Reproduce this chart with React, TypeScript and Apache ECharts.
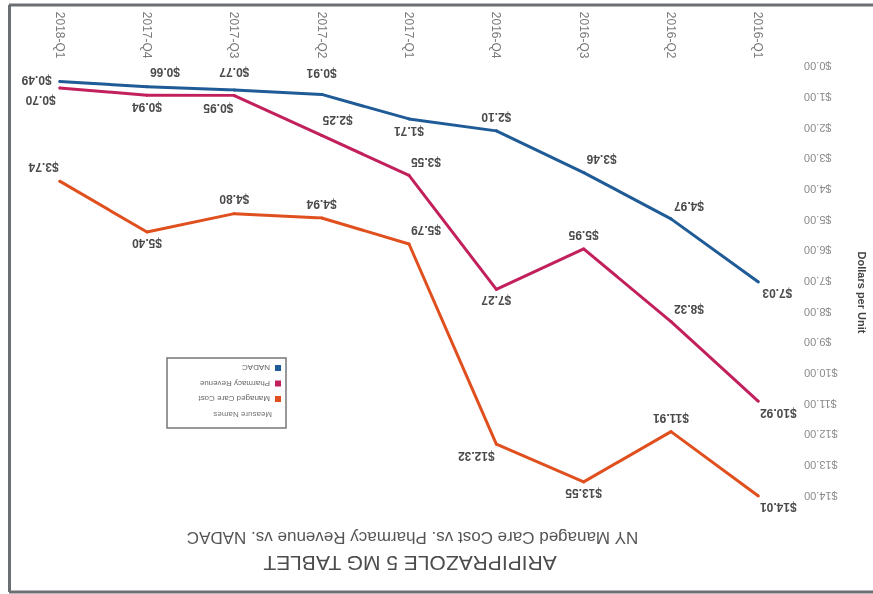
import React, { useEffect, useRef } from 'react';
import * as echarts from 'echarts';

const categories = ['2016-Q1', '2016-Q2', '2016-Q3', '2016-Q4', '2017-Q1', '2017-Q2', '2017-Q3', '2017-Q4', '2018-Q1'];
const managedCareCost = [14.01, 11.91, 13.55, 12.32, 5.79, 4.94, 4.8, 5.4, 3.74];
const pharmacyRevenue = [10.92, 8.32, 5.95, 7.27, 3.55, 2.25, 0.95, 0.94, 0.7];
const nadac = [7.03, 4.97, 3.46, 2.1, 1.71, 0.91, 0.77, 0.66, 0.49];
const seriesNames = ['Managed Care Cost', 'Pharmacy Revenue', 'NADAC'];
const titleText = 'ARIPIPRAZOLE 5 MG TABLET';
const subtitleText = 'NY Managed Care Cost vs. Pharmacy Revenue vs. NADAC';
const axisTitle = 'Dollars per Unit';
const legendTitle = 'Measure Names';

// label placement (style only)
const nadacLabelOffsets = [[-19, -11], [-18, 13], [-18, 14], [0, 14], [0, -12], [0, 21], [0, 18], [-18, 15], [23, 1.5]];
const pharmacyLabelOffsets = [[-20, -12], [-18, 13], [0, 14], [0, -11], [-17, 13], [-16, 15], [16, -12], [0, -12], [19, -12]];
const managedLabelOffsets = [[-20, -11], [0, 14], [0, -11], [20, -12], [-17, 14], [0, 14], [0, 15], [0, -11], [16, 14]];

const FONT = '"Liberation Sans", Arial, sans-serif';
const colors = ['#e0501f', '#c2205c', '#1f5b96'];

function buildData(values: number[], offsets: number[][]) {
  return values.map((v, i) => ({ value: v, label: { offset: offsets[i] } }));
}

function makeSeries(name: string, values: number[], offsets: number[][], color: string) {
  return {
    name,
    type: 'line',
    data: buildData(values, offsets),
    clip: false,
    symbol: 'circle',
    symbolSize: 3,
    showSymbol: true,
    lineStyle: { color, width: 3 },
    itemStyle: { color },
    label: {
      show: true,
      position: 'inside',
      formatter: (p: any) => '$' + Number(p.value).toFixed(2),
      fontFamily: FONT,
      fontSize: 12,
      fontWeight: 'bold',
      color: '#4a4a4a',
    },
  };
}

export default function App() {
  const ref = useRef<HTMLDivElement>(null);
  useEffect(() => {
    const chart = echarts.init(ref.current!, null, { renderer: 'svg' });
    const option: any = {
      animation: false,
      backgroundColor: '#ffffff',
      color: colors,
      grid: { left: 71, right: 16, top: 98.3, bottom: 66.5, containLabel: false },
      xAxis: {
        type: 'category',
        data: categories,
        boundaryGap: true,
        axisLine: { show: false },
        axisTick: { show: false },
        axisLabel: { rotate: 90, margin: 8, fontFamily: FONT, fontSize: 12, color: '#7a7a7a' },
        splitLine: { show: false },
      },
      yAxis: {
        type: 'value',
        min: 0,
        max: 14,
        interval: 1,
        axisLine: { show: false },
        axisTick: { show: false },
        splitLine: { show: false },
        axisLabel: {
          margin: 2,
          fontFamily: FONT,
          fontSize: 11,
          color: '#8a8a8a',
          formatter: (v: number) => '$' + v.toFixed(2),
        },
      },
      legend: {
        orient: 'vertical',
        left: 592,
        top: 187.25,
        padding: 0,
        itemGap: 0,
        itemWidth: 6,
        itemHeight: 6,
        icon: 'rect',
        data: seriesNames,
        textStyle: { fontFamily: FONT, fontSize: 8, color: '#666', lineHeight: 15.5 },
      },
      graphic: [
        { type: 'line', shape: { x1: 0, y1: 2, x2: 864, y2: 2 }, style: { stroke: '#6b6e73', lineWidth: 3 } },
        { type: 'line', shape: { x1: 0, y1: 589, x2: 864, y2: 589 }, style: { stroke: '#6b6e73', lineWidth: 3 } },
        { type: 'line', shape: { x1: 863.5, y1: 2, x2: 863.5, y2: 589 }, style: { stroke: '#6b6e73', lineWidth: 3 } },
        {
          type: 'text', x: 463, y: 30.5,
          style: { text: titleText, font: `21px ${FONT}`, fill: '#4d4d4d', align: 'center', verticalAlign: 'middle' },
        },
        {
          type: 'text', x: 460.5, y: 56.5,
          style: { text: subtitleText, font: `17px ${FONT}`, fill: '#555', align: 'center', verticalAlign: 'middle' },
        },
        {
          type: 'text', x: 10.5, y: 301.5, rotation: Math.PI / 2,
          style: { text: axisTitle, font: `bold 11px ${FONT}`, fill: '#444', align: 'center', verticalAlign: 'middle' },
        },
        {
          type: 'rect', shape: { x: 587, y: 166, width: 119, height: 70 },
          style: { fill: 'none', stroke: '#777', lineWidth: 1.5 },
        },
        {
          type: 'text', x: 601, y: 179,
          style: { text: legendTitle, font: `8px ${FONT}`, fill: '#777', align: 'left', verticalAlign: 'middle' },
        },
      ],
      series: [
        makeSeries(seriesNames[0], managedCareCost, managedLabelOffsets, colors[0]),
        makeSeries(seriesNames[1], pharmacyRevenue, pharmacyLabelOffsets, colors[1]),
        makeSeries(seriesNames[2], nadac, nadacLabelOffsets, colors[2]),
      ],
    };
    chart.setOption(option);
    return () => chart.dispose();
  }, []);
  return (
    <div
      style={{
        position: 'fixed',
        left: 0,
        top: 0,
        width: 873,
        height: 594,
        transform: 'rotate(180deg)',
        background: '#fff',
      }}
    >
      <div ref={ref} style={{ width: 873, height: 594 }} />
    </div>
  );
}
